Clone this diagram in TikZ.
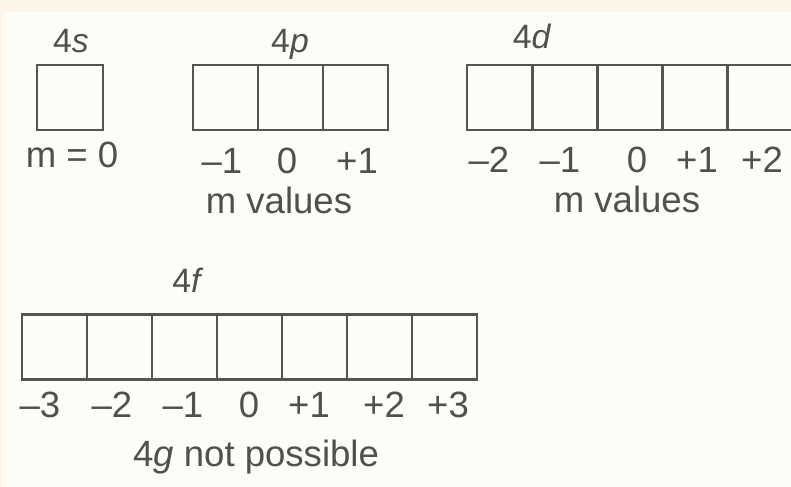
\documentclass[tikz,border=0pt]{standalone}
\usepackage{fontspec}
\setmainfont{Liberation Sans}
\usetikzlibrary{positioning}
\definecolor{outerbg}{HTML}{FDF5E7}
\definecolor{panelbg}{HTML}{FDFCF8}
\definecolor{inkgray}{HTML}{505050}
\definecolor{linegray}{HTML}{545454}
\tikzset{
  cell/.style={draw=linegray,line width=0.065cm,minimum width=1.63cm,minimum height=1.625cm,inner sep=0pt,outer sep=0pt},
  mval/.style={anchor=base,text=inkgray,inner sep=0pt,font=\fontsize{26}{30}\selectfont},
  orb/.style={anchor=base,text=inkgray,inner sep=0pt,font=\fontsize{24}{28}\selectfont},
}

\begin{document}
\begin{tikzpicture}[x=0.025cm,y=-0.025cm]
\fill[outerbg] (0,0) rectangle (791,487);
\fill[panelbg] (3,12) rectangle (791,487);
% 4s
\node[cell,minimum width=1.65cm] (s1) at (70,97.5) {};
\node[orb] (slab) at (71,52) {4\textit{s}};
\node[mval] (sm) at (72,167) {m = 0};
% 4p
\foreach \i in {1,2,3}
  \node[cell] (p\i) at ({193+65*\i-32.5},97.5) {};
\node[orb] (plab) at (290,52) {4\textit{p}};
\foreach \v/\x [count=\i] in {--1/222,0/287,+1/357}
  \node[mval] (pm\i) at (\x,173) {\v};
\node[mval] (pmv) at (279,213) {m values};
% 4d
\foreach \i in {1,...,5}
  \node[cell] (d\i) at ({467+65.2*\i-32.6},97.5) {};
\node[orb] (dlab) at (532,48) {4\textit{d}};
\foreach \v/\x [count=\i] in {--2/489,--1/560,0/637,+1/697,+2/762}
  \node[mval] (dm\i) at (\x,172) {\v};
\node[mval] (dmv) at (627,212) {m values};
% 4f
\foreach \i in {1,...,7}
  \node[cell] (f\i) at ({22+65*\i-32.5},347) {};
\node[orb] (flab) at (188,292) {4\textit{f}};
\foreach \v/\x [count=\i] in {--3/40,--2/112,--1/183,0/249,+1/309,+2/384,+3/448}
  \node[mval] (fm\i) at (\x,417) {\v};
\node[mval] (gnote) at (256,466) {4\textit{g} not possible};
\pgfresetboundingbox
\useasboundingbox (0,0) rectangle (791,487);
\end{tikzpicture}
\end{document}
